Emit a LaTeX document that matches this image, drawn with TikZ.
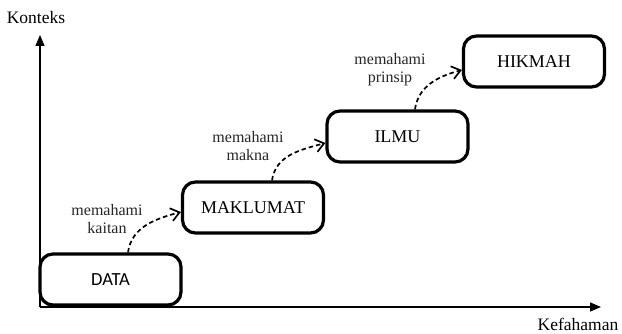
\documentclass[tikz,border=0pt]{standalone}
\usepackage{fontspec}
\setmainfont{Liberation Serif}
\newfontfamily\boxsans{Carlito}
\usetikzlibrary{arrows.meta}
\begin{document}
\begin{tikzpicture}[x=1pt,y=-1pt,
  stage/.style={draw, line width=3.2pt, rounded corners=13pt,
    minimum width=141pt, minimum height=51pt, inner sep=0pt,
    font=\fontsize{18}{20}\selectfont},
  axis/.style={line width=1.5pt, -{Triangle[length=11pt,width=9pt]}},
  stepline/.style={line width=1.7pt, dash pattern=on 4.5pt off 3pt,
    -{Straight Barb[length=8.5pt,width=13pt,line width=1.7pt]}},
  tag/.style={align=center, inner sep=0pt,
    font=\fontsize{16}{18}\selectfont, text=black!85},
  axislabel/.style={inner sep=0pt, font=\fontsize{17.5}{19}\selectfont}]
  \useasboundingbox (0,0) rectangle (622,334);

  % axes
  \coordinate (origin) at (40,307);
  \coordinate (ytip) at (40,35);
  \coordinate (xtip) at (601,307);
  \draw[axis] (origin) -- (ytip);
  \draw[axis] (origin) -- (xtip);
  \node[axislabel] (ylab) at (36,18) {Konteks};
  \node[axislabel] (xlab) at (578,324) {Kefahaman};

  % stages
  \node[stage, font=\boxsans\fontsize{18.5}{20}\selectfont] (data) at (110.5,279.5) {DATA};
  \node[stage] (maklumat) at (253,207.5) {MAKLUMAT};
  \node[stage] (ilmu) at (397.5,136.5) {ILMU};
  \node[stage] (hikmah) at (534,61.5) {HIKMAH};

  % transitions
  \draw[stepline] ([xshift=17.5pt]data.north) to[out=82,in=195] ([yshift=-4.5pt]maklumat.west);
  \draw[stepline] ([xshift=19pt]maklumat.north) to[out=82,in=195] ([yshift=-6.5pt]ilmu.west);
  \draw[stepline] ([xshift=17.5pt]ilmu.north) to[out=82,in=195] ([yshift=-8.5pt]hikmah.west);

  \node[tag] (t1) at (107,219) {memahami\\kaitan};
  \node[tag] (t2) at (248,146) {memahami\\makna};
  \node[tag] (t3) at (390,70) {memahami\\prinsip};
\end{tikzpicture}
\end{document}
